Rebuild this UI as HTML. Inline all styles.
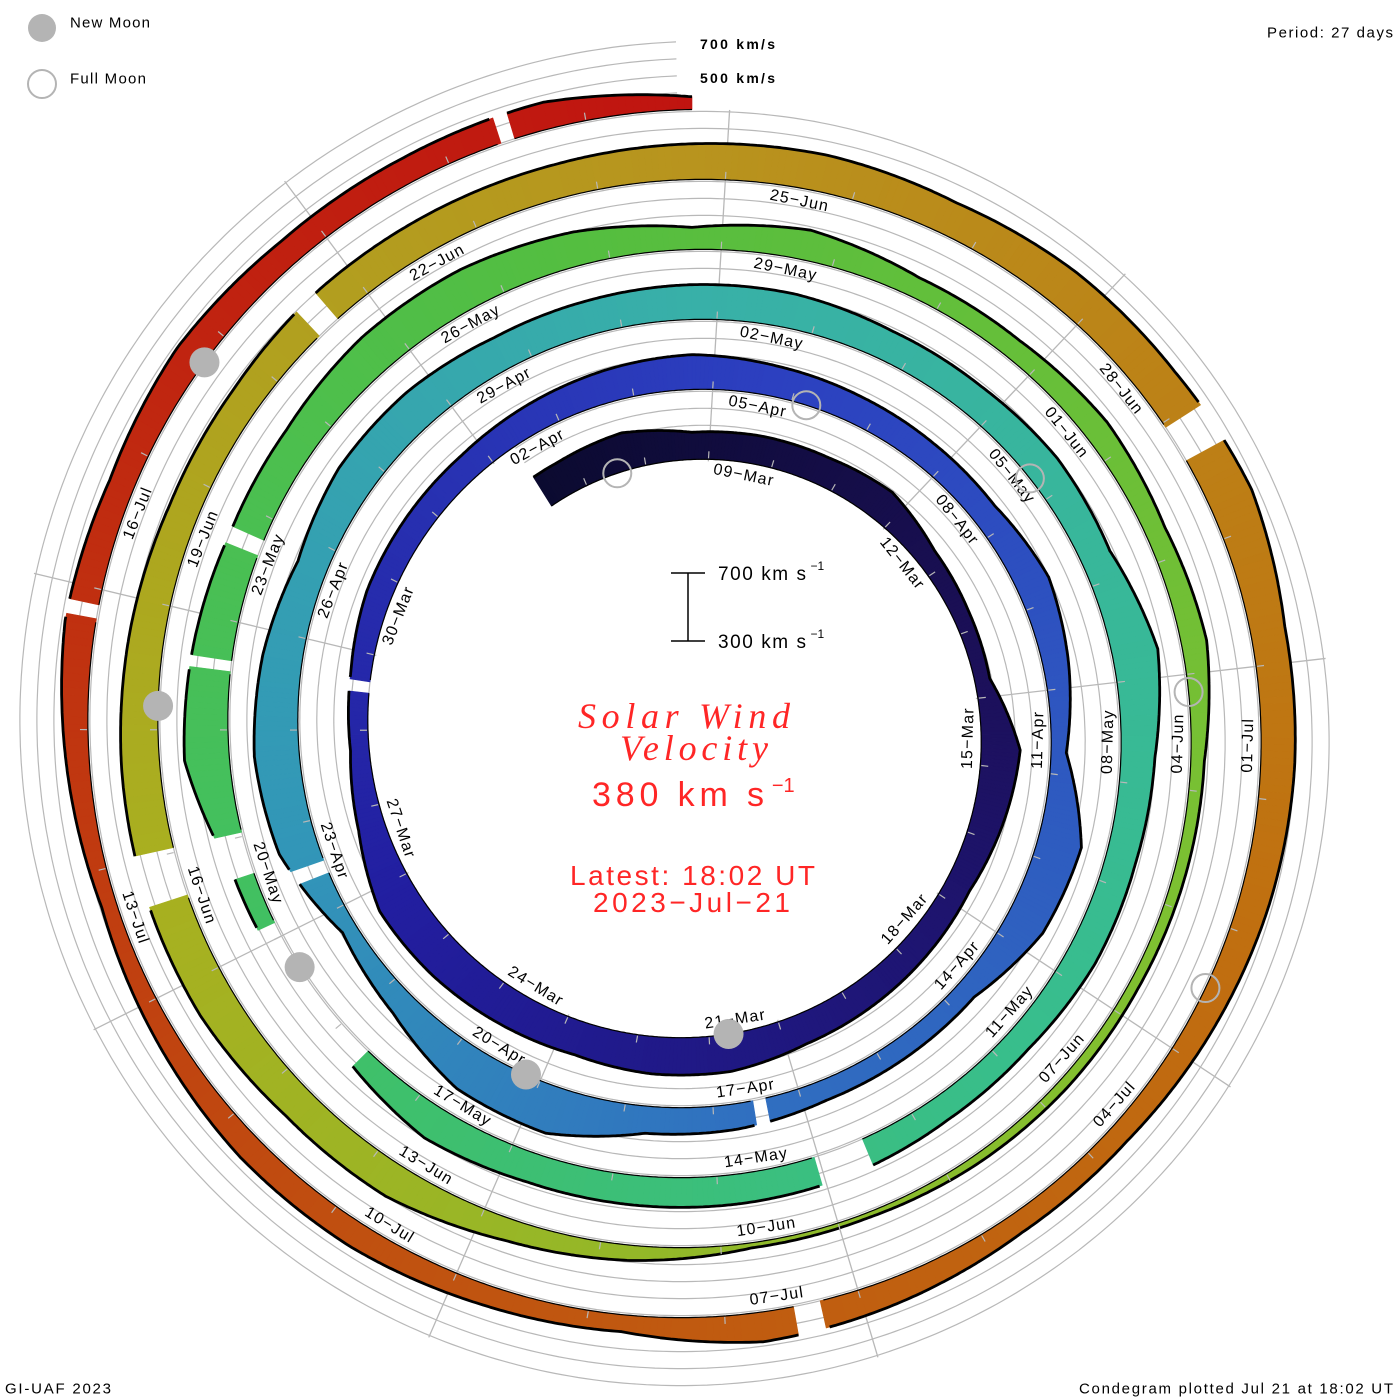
<!DOCTYPE html>
<html>
<head>
<meta charset="utf-8">
<style>
  html,body{margin:0;padding:0;background:#fff;}
  body{width:1400px;height:1400px;overflow:hidden;font-family:"Liberation Sans",sans-serif;}
  svg{display:block;}
  text{font-family:"Liberation Sans",sans-serif;}
</style>
</head>
<body>
<svg id="chart" width="1400" height="1400" viewBox="0 0 1400 1400" xmlns="http://www.w3.org/2000/svg">
  <g id="grid"></g>
  <g id="spokes"></g>
  <g id="bands"></g>
  <g id="ticks"></g>
  <g id="labels"></g>
  <g id="moons"></g>

  <g>
    <circle cx="42" cy="28" r="14" fill="#b4b4b4"/>
    <text x="70" y="23" font-size="15" dominant-baseline="central" textLength="80" lengthAdjust="spacing">New Moon</text>
    <circle cx="42" cy="84" r="14" fill="none" stroke="#b4b4b4" stroke-width="2"/>
    <text x="70" y="79" font-size="15" dominant-baseline="central" textLength="76" lengthAdjust="spacing">Full Moon</text>
  </g>
  <text x="1267" y="33" font-size="15" dominant-baseline="central" textLength="126" lengthAdjust="spacing">Period: 27 days</text>
  <text x="700" y="44" font-size="14" font-weight="bold" dominant-baseline="central" textLength="75" lengthAdjust="spacing">700 km/s</text>
  <text x="700" y="78" font-size="14" font-weight="bold" dominant-baseline="central" textLength="75" lengthAdjust="spacing">500 km/s</text>

  <g stroke="#000" stroke-width="1.5">
    <line x1="688" y1="573" x2="688" y2="641"/>
    <line x1="671" y1="573" x2="705" y2="573"/>
    <line x1="671" y1="641" x2="705" y2="641"/>
  </g>
  <text x="718" y="574" font-size="19" dominant-baseline="central"><tspan textLength="88" lengthAdjust="spacing">700 km s</tspan><tspan font-size="12" dy="-8" dx="3">−1</tspan></text>
  <text x="718" y="642" font-size="19" dominant-baseline="central"><tspan textLength="88" lengthAdjust="spacing">300 km s</tspan><tspan font-size="12" dy="-8" dx="3">−1</tspan></text>

  <text x="578" y="728" font-size="36" fill="#ff2626" font-style="italic" textLength="212" lengthAdjust="spacing" style="font-family:'Liberation Serif',serif">Solar Wind</text>
  <text x="620" y="760" font-size="36" fill="#ff2626" font-style="italic" textLength="148" lengthAdjust="spacing" style="font-family:'Liberation Serif',serif">Velocity</text>
  <text x="592" y="806" font-size="34" fill="#ff2626"><tspan textLength="172" lengthAdjust="spacing">380 km s</tspan><tspan font-size="20" dy="-14" dx="3">−1</tspan></text>
  <text x="570" y="885" font-size="28" fill="#ff2626" textLength="245" lengthAdjust="spacing">Latest: 18:02 UT</text>
  <text x="593" y="912" font-size="28" fill="#ff2626" textLength="197" lengthAdjust="spacing">2023−Jul−21</text>

  <text x="5" y="1389" font-size="15" dominant-baseline="central" textLength="106" lengthAdjust="spacing">GI-UAF 2023</text>
  <text x="1079" y="1389" font-size="15" dominant-baseline="central" textLength="314" lengthAdjust="spacing">Condegram plotted Jul 21 at 18:02 UT</text>
</svg>

<script>
// ---- data (daily solar wind speed, km/s; index i corresponds to day t = i - 2 since 2023-03-08 17:46 UT)
const speeds = [
 500,520,460,470,470,490,420,400,390,530,490,450,
 460,470,480,520,520,500,520,540,550,460,
 410,420,450,450,450,470,490,505,480,465,
 455,450,500,450,390,560,535,420,420,420,
 450,460,580,565,450,390,535,565,535,480,
 530,530,500,500,505,505,480,480,500,480,
 570,500,480,480,450,450,470,475,475,475,
 500,420,400,420,565,535,500,500,535,535,
 500,430,480,420,420,450,420,450,380,370,
 360,360,350,330,330,390,430,500,500,535,
 535,525,505,480,480,500,500,500,510,520,
 500,530,535,565,505,500,480,450,420,420,
 450,475,400,420,450,450,420,390,435,480,
 450,480,450,450,460,375
];
// data gaps [start day, end day]
const gapStarts = [20.75,39.65,45.65,65.8,70.9,72.9,74.78,75.9,99.9,104.75,112.3,120.55,129.05,133.65];
const gapEnds   = [20.9,39.8,45.8,66.3,72.4,73.3,74.88,76.05,100.3,104.95,112.6,120.75,129.15,133.75];
const dataStart = -2.4;
const dataEnd = 135.0;
// moon phases (UTC)
const newMoons = ["2023-03-21T17:23Z","2023-04-20T04:12Z","2023-05-19T15:53Z","2023-06-18T04:37Z","2023-07-17T18:32Z"];
const fullMoons = ["2023-03-07T12:40Z","2023-04-06T04:34Z","2023-05-05T17:34Z","2023-06-04T03:41Z","2023-07-03T11:38Z"];
const monthNames = ["Jan","Feb","Mar","Apr","May","Jun","Jul","Aug","Sep","Oct","Nov","Dec"];
const spokeCount = 9;

// ---- geometry
const NS = "http://www.w3.org/2000/svg";
const CX = 692, CY = 731, R0 = 271.5, GROW = 70, PERIOD = 27, KPX = 0.17, VBASE = 300;
const T0 = Date.UTC(2023,2,8,17,46);
function R(t){ return R0 + GROW * t / PERIOD; }
function ang(t){ return t / PERIOD * 2 * Math.PI; }
function pt(t, r){ const a = ang(t); return [CX + r*Math.sin(a), CY - r*Math.cos(a)]; }
function vAt(t){
  let x = t + 2; if (x < 0) x = 0; if (x > speeds.length-1) x = speeds.length-1;
  const i = Math.floor(x), f = x - i;
  const a = speeds[i], b = speeds[Math.min(i+1, speeds.length-1)];
  return a + (b-a)*f;
}
function thick(t){ return Math.max(0, (vAt(t) - VBASE) * KPX); }
function inGap(t){ for (let g=0; g<gapStarts.length; g++) if (t > gapStarts[g] && t < gapEnds[g]) return true; return false; }
function dayOf(iso){ return (Date.parse(iso) - T0) / 86400000; }

const colorStops = [[-3,[10,10,45]],[6,[28,16,90]],[18,[34,30,160]],[28,[44,64,192]],[40,[48,112,192]],[46,[50,150,184]],[54,[56,176,168]],[64,[56,190,140]],[72,[64,192,100]],[80,[84,190,64]],[90,[128,192,48]],[100,[168,176,32]],[108,[184,148,30]],[116,[192,112,16]],[124,[192,80,16]],[131,[192,36,16]],[136,[192,16,16]]];
function colorAt(t){
  for (let i=0;i<colorStops.length-1;i++){
    const [ta,ca]=colorStops[i],[tb,cb]=colorStops[i+1];
    if (t<=tb){ const f=Math.max(0,(t-ta)/(tb-ta)); return "rgb("+ca.map((c,k)=>Math.round(c+(cb[k]-c)*f)).join(",")+")"; }
  }
  return "rgb(192,16,16)";
}
function mk(tag, attrs, parent){ const e=document.createElementNS(NS,tag); for(const k in attrs) e.setAttribute(k,attrs[k]); parent.appendChild(e); return e; }

// ---- grid spirals
const grid = document.getElementById("grid");
for (let k=0;k<5;k++){
  let d="";
  for (let t=dataStart; t<=dataEnd-0.1; t+=0.05){
    const [x,y]=pt(t, R(t)+k*17);
    d += (d?"L":"M")+x.toFixed(1)+","+y.toFixed(1);
  }
  const p = mk("path",{d:d,fill:"none",stroke:"#b8b8b8","stroke-width":"1.2"},grid);
  
  
}

// ---- spokes
const spokes = document.getElementById("spokes");
for (let s=0;s<spokeCount;s++){
  const t0 = 0.26 + 3*s;
  let tFirst = t0; while (tFirst - PERIOD >= dataStart) tFirst -= PERIOD;
  let tLast = t0; while (tLast + PERIOD <= dataEnd) tLast += PERIOD;
  const [x1,y1]=pt(t0, R(tFirst)-2), [x2,y2]=pt(t0, R(tLast)+70);
  const l = mk("line",{x1:x1,y1:y1,x2:x2,y2:y2,stroke:"#b8b8b8","stroke-width":"1.3"},spokes);
  
  
}

// ---- bands
const bands = document.getElementById("bands");
const STEP = 0.05;
for (let t=dataStart; t<dataEnd-1e-6; t+=STEP){
  const ta=t, tb=Math.min(t+STEP,dataEnd);
  if (inGap((ta+tb)/2)) continue;
  const p1=pt(ta,R(ta)), p2=pt(ta,R(ta)+thick(ta)), p3=pt(tb,R(tb)+thick(tb)), p4=pt(tb,R(tb));
  const c = colorAt((ta+tb)/2);
  const poly = mk("polygon",{points:[p1,p2,p3,p4].map(p=>p[0].toFixed(1)+","+p[1].toFixed(1)).join(" "),fill:c,stroke:c,"stroke-width":"0.6"},bands);
  
  
}
// segment outlines
const segs=[]; let cur=null;
for (let t=dataStart; t<=dataEnd+1e-6; t+=0.025){
  const g=inGap(t);
  if(!g){ if(!cur){cur=[t,t];segs.push(cur);} cur[1]=t; } else cur=null;
}
segs.forEach(([sa,sb])=>{
  let outer="", base="";
  for (let t=sa; t<=sb+1e-6; t+=0.025){
    const [x,y]=pt(t,R(t)+thick(t)); outer+=(outer?"L":"M")+x.toFixed(1)+","+y.toFixed(1);
    const [bx,by]=pt(t,R(t)); base+=(base?"L":"M")+bx.toFixed(1)+","+by.toFixed(1);
  }
  const o = mk("path",{d:outer,fill:"none",stroke:"#000","stroke-width":"2.8","stroke-linejoin":"round"},bands);
  
  
  const b = mk("path",{d:base,fill:"none",stroke:"#000","stroke-width":"1.2"},bands);
  
  
});

// ---- day ticks
const ticks = document.getElementById("ticks");
for (let t=Math.ceil(dataStart-0.26)+0.26; t<dataEnd; t+=1){
  const [x1,y1]=pt(t,R(t)+1),[x2,y2]=pt(t,R(t)+8);
  const tk = mk("line",{x1:x1,y1:y1,x2:x2,y2:y2,stroke:"#b8b8b8","stroke-width":"1.2"},ticks);
  
  
}

// ---- date labels
const labels = document.getElementById("labels");
for (let k=0; ; k++){
  const t = 0.26 + 3*k;
  if (t > 131) break;
  const d = new Date(Date.UTC(2023,2,9+3*k));
  const txt = String(d.getUTCDate()).padStart(2,"0")+"−"+monthNames[d.getUTCMonth()];
  const tl = t + 0.6;
  const [x,y] = pt(tl, R(tl)-13);
  let deg = (tl/PERIOD*360) % 360;
  let rot = (deg>90 && deg<270) ? deg-180 : deg;
  const lb = mk("text",{x:x.toFixed(1),y:y.toFixed(1),"font-size":"16","letter-spacing":"1.2","text-anchor":"middle","dominant-baseline":"central",transform:"rotate("+rot.toFixed(1)+" "+x.toFixed(1)+" "+y.toFixed(1)+")"},labels);
  lb.textContent = txt;
  
  
}

// ---- moons
const moons = document.getElementById("moons");
newMoons.forEach(s=>{
  const t=dayOf(s); const [x,y]=pt(t,R(t));
  const c = mk("circle",{cx:x,cy:y,r:15,fill:"#b4b4b4"},moons);
  
  
});
fullMoons.forEach(s=>{
  const t=dayOf(s); const [x,y]=pt(t,R(t));
  const c = mk("circle",{cx:x,cy:y,r:14,fill:"none",stroke:"#b4b4b4","stroke-width":"2"},moons);
  
  
});
</script>
</body>
</html>
